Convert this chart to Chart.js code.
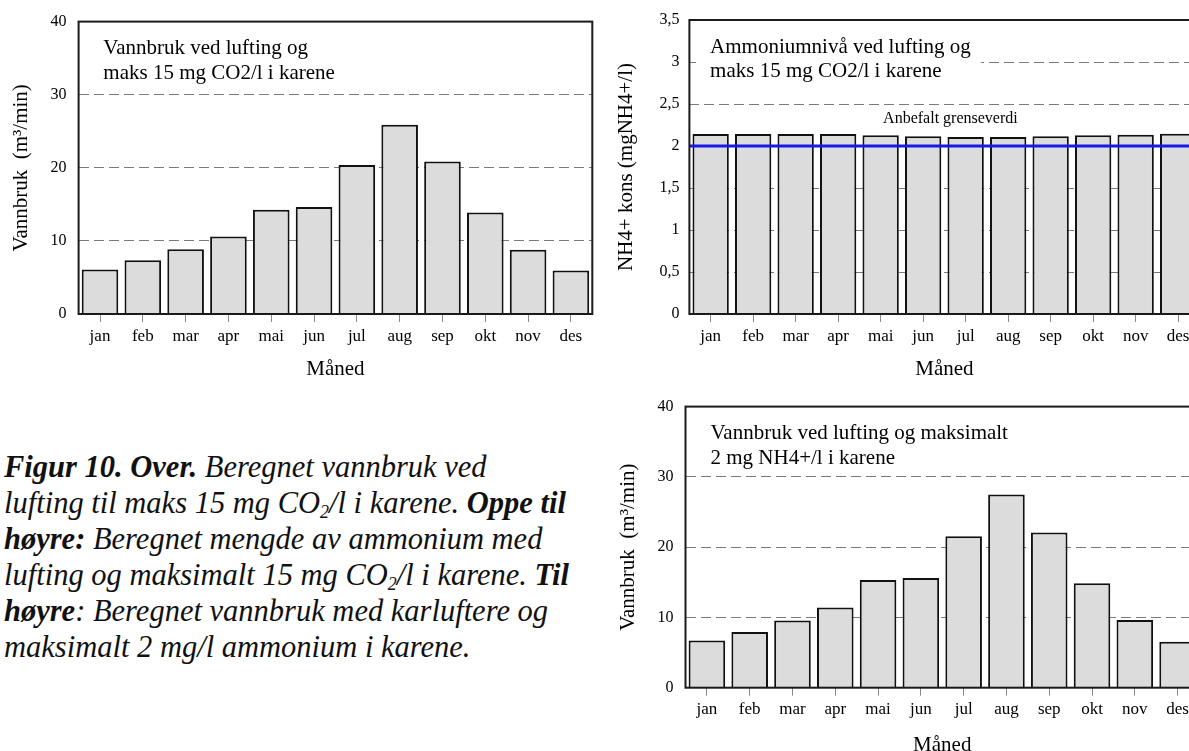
<!DOCTYPE html>
<html lang="no">
<head>
<meta charset="utf-8">
<title>Figur 10 – vannbruk og ammonium</title>
<script src="https://cdn.jsdelivr.net/npm/chart.js@4.4.1/dist/chart.umd.min.js"></script>
<style>
  html, body { margin: 0; padding: 0; background: #fff; width: 1189px; height: 751px; overflow: hidden; }
  canvas { position: absolute; }
  #caption {
    position: absolute; left: 4px; top: 449px;
    font-family: "Liberation Serif", "Times New Roman", serif;
    font-style: italic; font-size: 30.5px; line-height: 36px;
    white-space: nowrap; color: #111;
  }
  #caption sub { font-size: 18px; line-height: 0; vertical-align: baseline; position: relative; top: 5px; }
</style>
</head>
<body>
<canvas id="chartCO2" width="600" height="382" style="left:0;top:0"></canvas>
<canvas id="chartNH4" width="612" height="382" style="left:600px;top:0"></canvas>
<canvas id="chartVannNH4" width="612" height="373" style="left:600px;top:385px"></canvas>

<div id="caption">
  <b>Figur 10. Over.</b> Beregnet vannbruk ved<br>
  lufting til maks 15 mg CO<sub>2</sub>/l i karene. <b>Oppe til</b><br>
  <b>høyre:</b> Beregnet mengde av ammonium med<br>
  lufting og maksimalt 15 mg CO<sub>2</sub>/l i karene. <b>Til</b><br>
  <b>høyre</b>: Beregnet vannbruk med karluftere og<br>
  maksimalt 2 mg/l ammonium i karene.
</div>

<script>
// data lest av figuren
const maaneder = ['jan', 'feb', 'mar', 'apr', 'mai', 'jun', 'jul', 'aug', 'sep', 'okt', 'nov', 'des'];
const vannbrukCO2 = [6.1, 7.35, 8.85, 10.6, 14.25, 14.65, 20.4, 25.9, 20.85, 13.9, 8.8, 5.95];
const ammoniumNivaa = [2.143, 2.143, 2.143, 2.143, 2.127, 2.115, 2.107, 2.107, 2.115, 2.127, 2.135, 2.147];
const vannbrukNH4 = [6.72, 7.94, 9.58, 11.43, 15.33, 15.6, 21.55, 27.5, 22.1, 14.88, 9.62, 6.53];
const grenseverdi = 2;
const vannTicks = [0, 10, 20, 30, 40];
const nh4Ticks = [0, 0.5, 1, 1.5, 2, 2.5, 3, 3.5];

const serif = '"Liberation Serif", "Times New Roman", serif';
Chart.defaults.font.family = serif;
Chart.defaults.color = '#000';

// tittel i hvit boks, grenselinje og ramme rundt plottet
const figurPlugin = {
    id: 'figur',
    afterDatasetsDraw(chart, args, opts) {
        const { ctx, chartArea: a, scales } = chart;
        ctx.save();

        if (opts.grense !== undefined) {
            const y = scales.y.getPixelForValue(opts.grense);
            ctx.strokeStyle = '#1818e8';
            ctx.lineWidth = 3;
            ctx.beginPath();
            ctx.moveTo(a.left, y);
            ctx.lineTo(a.right, y);
            ctx.stroke();

            ctx.font = '16px ' + serif;
            ctx.fillStyle = '#000';
            ctx.textAlign = 'center';
            ctx.textBaseline = 'middle';
            ctx.fillText(opts.grenseTekst, (a.left + a.right) / 2 + 6, scales.y.getPixelForValue(opts.grenseTekstVerdi));
        }

        ctx.font = '21px ' + serif;
        ctx.textAlign = 'left';
        ctx.textBaseline = 'middle';
        const x = a.left + opts.tittelX;
        const y0 = a.top + 27;
        const linje = 24.5;
        const w = Math.max(...opts.tittel.map(t => ctx.measureText(t).width));
        ctx.fillStyle = '#fff';
        ctx.fillRect(x - 14, y0 - 18, w + 24, linje * (opts.tittel.length - 1) + 34);
        ctx.fillStyle = '#000';
        opts.tittel.forEach((t, i) => ctx.fillText(t, x, y0 + i * linje));
        ctx.restore();
    },
    afterDraw(chart) {
        const { ctx, chartArea: a } = chart;
        ctx.save();
        ctx.strokeStyle = '#1a1a1a';
        ctx.lineWidth = 2;
        ctx.strokeRect(a.left, a.top, a.right - a.left, a.bottom - a.top);
        ctx.restore();
    }
};

function lagSoylediagram(id, verdier, oppsett) {
    return new Chart(document.getElementById(id), {
        type: 'bar',
        data: {
            labels: maaneder,
            datasets: [{
                data: verdier,
                backgroundColor: '#dcdcdc',
                borderColor: '#111',
                borderWidth: 2,
                barPercentage: 0.855,
                categoryPercentage: 1
            }]
        },
        options: {
            responsive: false,
            animation: false,
            layout: { padding: { top: oppsett.padTop, right: oppsett.padRight, left: 0, bottom: 0 } },
            plugins: {
                legend: { display: false },
                tooltip: { enabled: false },
                figur: oppsett.figur
            },
            scales: {
                x: {
                    grid: { drawOnChartArea: false, drawTicks: true, tickLength: 8, color: '#888', offset: false },
                    border: { display: false },
                    ticks: { padding: 4, font: { size: 17 }, maxRotation: 0, autoSkip: false },
                    title: { display: true, text: 'Måned', font: { size: 21 }, padding: { top: 0, bottom: 0 } },
                    afterFit: s => { s.height = oppsett.xHoyde; }
                },
                y: {
                    min: 0,
                    max: oppsett.ticks[oppsett.ticks.length - 1],
                    afterBuildTicks: s => { s.ticks = oppsett.ticks.map(v => ({ value: v })); },
                    ticks: {
                        padding: oppsett.tickPad,
                        font: { size: 16 },
                        callback: v => String(v).replace('.', ',')
                    },
                    grid: { color: '#7a7a7a', lineWidth: 1, drawTicks: false },
                    border: { display: false, dash: [10, 5] },
                    title: { display: true, text: oppsett.yTittel, font: { size: 21 }, padding: { top: oppsett.yTittelPad, bottom: 0 } },
                    afterFit: s => { s.width = oppsett.yBredde; }
                }
            }
        },
        plugins: [figurPlugin]
    });
}

lagSoylediagram('chartCO2', vannbrukCO2, {
    ticks: vannTicks,
    padTop: 20, padRight: 7.7, yBredde: 78.6, xHoyde: 68, tickPad: 12,
    yTittel: 'Vannbruk  (m³/min)', yTittelPad: 9,
    figur: { tittel: ['Vannbruk ved lufting og', 'maks 15 mg CO2/l i karene'], tittelX: 24.7 }
});

lagSoylediagram('chartNH4', ammoniumNivaa, {
    ticks: nh4Ticks,
    padTop: 20, padRight: 12.6, yBredde: 89.4, xHoyde: 68, tickPad: 10,
    yTittel: 'NH4+ kons (mgNH4+/l)', yTittelPad: 14,
    figur: {
        tittel: ['Ammoniumnivå ved lufting og', 'maks 15 mg CO2/l i karene'], tittelX: 20.7,
        grense: grenseverdi, grenseTekst: 'Anbefalt grenseverdi', grenseTekstVerdi: 2.32
    }
});

lagSoylediagram('chartVannNH4', vannbrukNH4, {
    ticks: vannTicks,
    padTop: 8.3, padRight: 13, yBredde: 85.5, xHoyde: 70.3, tickPad: 12,
    yTittel: 'Vannbruk  (m³/min)', yTittelPad: 15.4,
    figur: { tittel: ['Vannbruk ved lufting og maksimalt', '2 mg NH4+/l i karene'], tittelX: 25 }
});
</script>
</body>
</html>
